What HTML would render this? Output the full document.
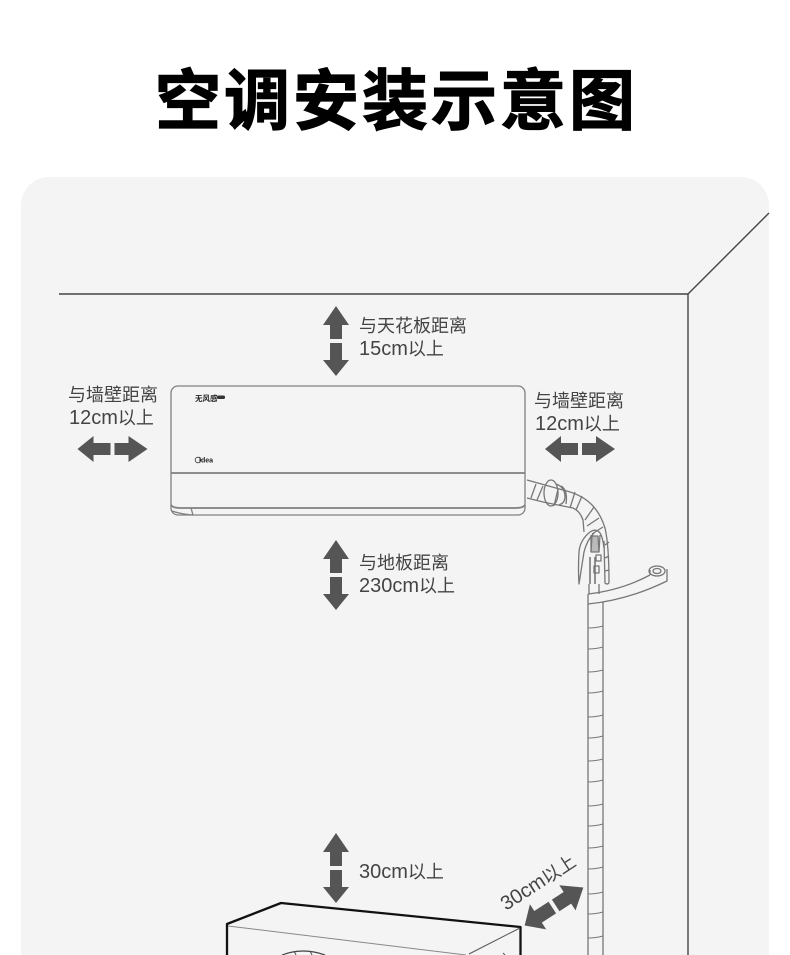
<!DOCTYPE html>
<html><head><meta charset="utf-8"><style>
html,body{margin:0;padding:0;background:#fff}
svg{display:block}
text{font-family:"Liberation Sans","Noto Sans CJK SC",sans-serif}
.t{font-family:"Noto Sans CJK SC",sans-serif;font-size:18px;fill:#444}
.l{font-family:"Liberation Sans",sans-serif;font-size:20px}
</style></head><body>
<svg width="790" height="955" viewBox="0 0 790 955" xmlns="http://www.w3.org/2000/svg">
<defs>
<g id="av"><path d="M0 -35L13 -16H6V-2H-6V-16H-13Z M-6 2H6V19H13L0 35L-13 19H-6Z" fill="#555"/></g>
</defs>
<rect width="790" height="955" fill="#fff"/>
<text x="396.500" y="124" text-anchor="middle" style="font-family:'Noto Sans CJK SC',sans-serif;font-weight:700;font-size:66px;letter-spacing:3px" fill="#000" stroke="#000" stroke-width="1.2">空调安装示意图</text>
<path d="M21 955V205a28 28 0 0 1 28-28H741a28 28 0 0 1 28 28V955Z" fill="#f4f4f4"/>
<path d="M59 294H688V955M688 294L769 213" fill="none" stroke="#444" stroke-width="1.4"/>

<use href="#av" x="336" y="341"/>
<use href="#av" x="336" y="575"/>
<use href="#av" x="336" y="868"/>
<use href="#av" transform="translate(112.5 449) rotate(90)"/>
<use href="#av" transform="translate(580 449) rotate(90)"/>
<use href="#av" transform="translate(554 906.5) rotate(57) scale(1.15 1)"/>

<text class="t" x="359" y="332">与天花板距离</text>
<text class="t" x="359" y="355"><tspan class="l">15cm</tspan>以上</text>
<text class="t" x="68" y="401">与墙壁距离</text>
<text class="t" x="69" y="424"><tspan class="l">12cm</tspan>以上</text>
<text class="t" x="534" y="407">与墙壁距离</text>
<text class="t" x="535" y="430"><tspan class="l">12cm</tspan>以上</text>
<text class="t" x="359" y="569">与地板距离</text>
<text class="t" x="359" y="592"><tspan class="l">230cm</tspan>以上</text>
<text class="t" x="359" y="878"><tspan class="l">30cm</tspan>以上</text>
<text class="t" transform="translate(506 911) rotate(-33)"><tspan class="l">30cm</tspan>以上</text>

<!-- indoor unit -->
<g fill="none" stroke="#808080" stroke-width="1.3">
<rect x="171" y="386" width="354" height="129" rx="7"/>
<path d="M171 473H525" stroke-width="1.8"/>
<path d="M171 505Q173 508 180 508H516Q523 508 525 505" stroke-width="1.8"/>
<path d="M191 508L193 515M172 511Q180 514 193 515"/>
</g>
<text x="195" y="401" font-size="7.5" font-weight="700" fill="#222" style="font-family:'Noto Sans CJK SC',sans-serif">无风感</text>
<rect x="217" y="395.500" width="8" height="3.500" rx="1.500" fill="#333"/>
<circle cx="198" cy="460" r="2.800" fill="none" stroke="#333" stroke-width=".8"/>
<text x="199" y="462.500" font-size="7" font-weight="700" fill="#222">idea</text>

<!-- pipe -->
<g fill="none" stroke="#777" stroke-width="1.3" stroke-linejoin="round">
<path d="M527 480L563 490Q580 494 590 503Q600 512 605 528Q609 545 609 583"/>
<path d="M527 498L543 502L573 508Q580 511 583 520L584 532"/>
<path d="M604 541L605 583Q607 585 609 583"/>
<path d="M536 484L531 498M543 486L537 500M558 489L554 506"/>
<ellipse cx="551" cy="493" rx="7" ry="13"/>
<path d="M556 484Q565 487 565 497Q565 503 559 505M561 486Q568 490 566 504"/>
<path d="M575 492L570 508M582 496L576 510M594 507L585 520M599 518L587 526M603 527L592 534"/>
<path d="M605 545L609 542M605 558L609 556M605 571L609 570"/>
<path d="M590 532Q580 540 579 552Q578 570 579 584L584 552Q587 540 594 533"/>
<path d="M590 532Q596 528 600 533Q603 538 604 548"/>
<path d="M591 535L591 552M600 535L599 552"/>
<path d="M591 552L592 536H598L599 552Z" fill="#bbb"/>
<path d="M590 557V584M595 557V584" stroke-width="1.6"/>
<path d="M594 566h5v7h-5ZM596 555h5v6h-5Z"/>
<path d="M589 584V594M599 584V594"/>
<path d="M588 594Q622 590 650 575M588 604Q628 600 667 581V569M650 575V570"/>
<ellipse cx="657" cy="571" rx="8" ry="5"/>
<ellipse cx="657" cy="571" rx="4" ry="2.500"/>
<path d="M588 594V955M603 602V955"/>
<path d="M588 628Q596 628 603 626M588 649Q596 649 603 647M588 672Q596 672 603 670M588 693Q596 693 603 691M588 717Q596 717 603 715M588 738Q596 738 603 736M588 761Q596 761 603 759M588 782Q596 782 603 780M588 806Q596 806 603 804M588 826Q596 826 603 824M588 848Q596 848 603 846M588 869Q596 869 603 867M588 894Q596 894 603 892M588 914Q596 914 603 912M588 938Q596 938 603 936" stroke-width="1.1"/>
</g>

<!-- outdoor unit -->
<path d="M227 955V924L281 903L520.500 927V955" fill="none" stroke="#111" stroke-width="2.300" stroke-linejoin="round"/>
<path d="M228 926L466 955" fill="none" stroke="#888" stroke-width="1"/>
<path d="M469 954L520 928" fill="none" stroke="#555" stroke-width="1"/>
<path d="M282 955Q303 947 325 955" fill="none" stroke="#444" stroke-width="1.2"/>
<path d="M294 951L296 955M310 951L312 955M503 953L505 955" fill="none" stroke="#555" stroke-width="1"/>
</svg>
</body></html>
